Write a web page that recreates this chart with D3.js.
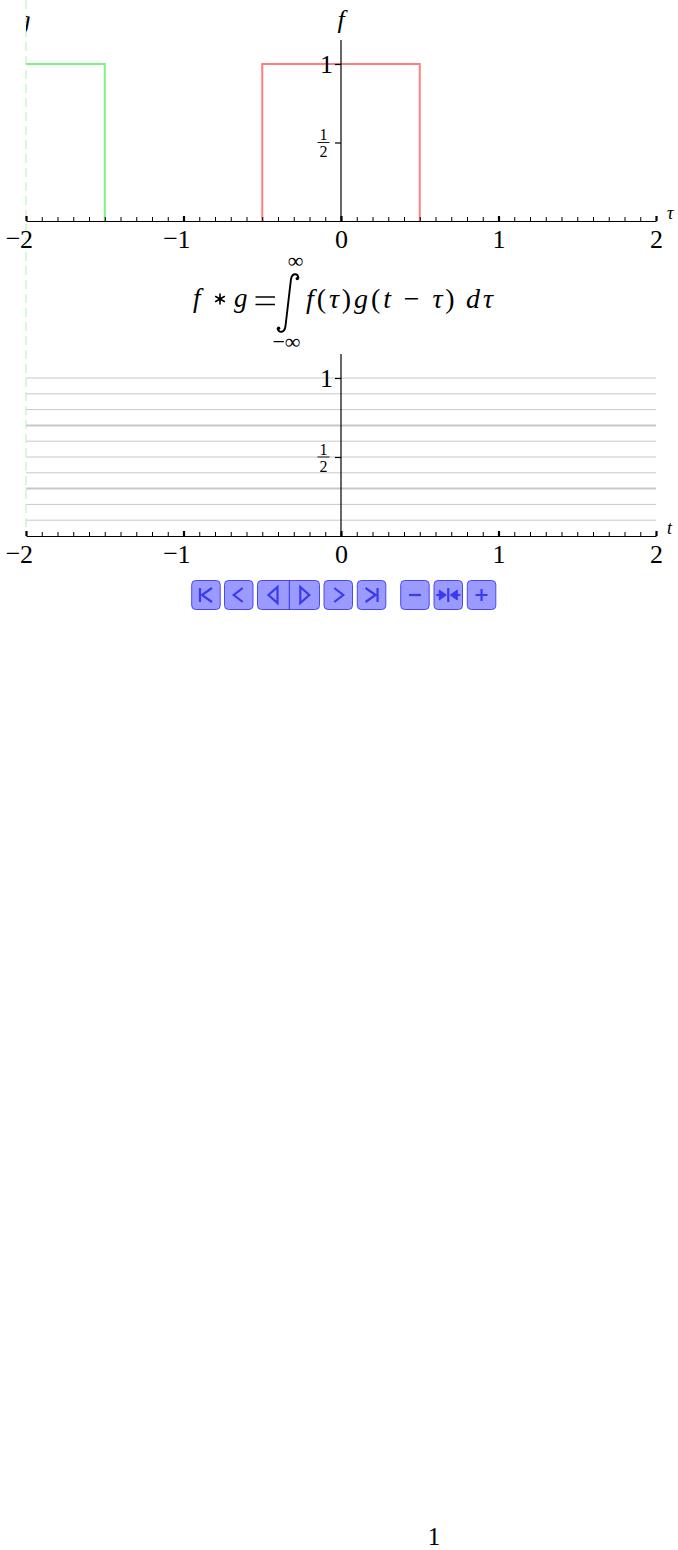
<!DOCTYPE html>
<html><head><meta charset="utf-8">
<script src="https://cdn.jsdelivr.net/npm/d3@7"></script>
<style>
html,body{margin:0;padding:0;background:#fff;}
svg{display:block;}
text{font-family:"Liberation Serif","DejaVu Serif",serif;fill:#000;}
.it{font-style:italic;}
</style></head>
<body>
<svg id="c" width="678" height="1550"></svg>
<script>
// ---------- data ----------
const xDomain = [-2, 2];
const majorTicks = [-2, -1, 0, 1, 2];
const minorTicks = d3.range(-20, 21).map(d => d / 10);
const fPoints = [[-0.5, 0], [-0.5, 1], [0.5, 1], [0.5, 0]];
const gPoints = [[-2.5, 1], [-1.5, 1], [-1.5, 0]];
const currentT = -2;
const yTickValues = [0.5, 1];
const gridValues = [0.1, 0.2, 0.3, 0.4, 0.5, 0.6, 0.7, 0.8, 0.9, 1.0];
const gridEmphasis = [0.3, 0.7];
const buttons = ["first", "prev", "revplay", "play", "next", "last", "slower", "reset", "faster"];
const pageNumber = "1";

// ---------- layout ----------
const svg = d3.select("#c");
const x = d3.scaleLinear().domain(xDomain).range([26, 656]);
const yTop = d3.scaleLinear().domain([0, 1]).range([221, 64]);
const yBot = d3.scaleLinear().domain([0, 1]).range([536, 378]);
const line = (ys) => d3.line().x(d => x(d[0])).y(d => ys(d[1]));

svg.append("clipPath").attr("id", "plotclip").append("rect")
  .attr("x", x(-2)).attr("y", 0).attr("width", x(2) - x(-2)).attr("height", 600);

// bottom grid
svg.append("g").selectAll("line").data(gridValues).join("line")
  .attr("x1", x(-2)).attr("x2", x(2))
  .attr("y1", d => yBot(d)).attr("y2", d => yBot(d))
  .attr("stroke", "#c8c8c8")
  .attr("stroke-width", d => gridEmphasis.some(e => Math.abs(e - d) < 1e-9) ? 2 : 1);

// dashed t marker
svg.append("line").attr("x1", x(currentT)).attr("x2", x(currentT))
  .attr("y1", 0).attr("y2", yBot(0))
  .attr("stroke", "#bff5bf").attr("stroke-width", 1.2).attr("stroke-dasharray", "9,5");

// f and g
svg.append("path").attr("d", line(yTop)(fPoints)).attr("fill", "none")
  .attr("stroke", "#ff7f7f").attr("stroke-width", 2);
svg.append("path").attr("d", line(yTop)(gPoints)).attr("fill", "none")
  .attr("clip-path", "url(#plotclip)")
  .attr("stroke", "#80f080").attr("stroke-width", 2);

function drawAxes(ys, yAxisTop, varName) {
  const y0 = ys(0);
  const minor = svg.append("g").attr("transform", `translate(0,${y0})`)
    .call(d3.axisBottom(x).tickValues(minorTicks).tickSizeInner(-4).tickSizeOuter(0).tickFormat(""));
  minor.selectAll(".tick line").attr("stroke", "#000").attr("stroke-width", 1);
  minor.select(".domain").attr("stroke", "#000").attr("stroke-width", 1.2);
  const major = svg.append("g").attr("transform", `translate(0,${y0})`)
    .call(d3.axisBottom(x).tickValues(majorTicks).tickSizeInner(-5).tickSizeOuter(0)
      .tickFormat(d => String(Math.abs(d))));
  major.select(".domain").remove();
  major.selectAll(".tick line").attr("stroke", "#000").attr("stroke-width", 2.2);
  major.selectAll(".tick text")
    .attr("y", 27).attr("dy", 0).attr("fill", "#000")
    .style("font-size", "26px");
  major.selectAll(".tick").filter(d => d < 0).append("text")
    .attr("x", -6).attr("y", 26).attr("text-anchor", "end")
    .style("font-size", "26px").text("\u2212");
  svg.append("line").attr("x1", x(0)).attr("x2", x(0))
    .attr("y1", yAxisTop).attr("y2", y0).attr("stroke", "#000").attr("stroke-width", 1.2);
  const ya = svg.append("g").attr("transform", `translate(${x(0)},0)`)
    .call(d3.axisLeft(ys).tickValues(yTickValues).tickSizeInner(6).tickSizeOuter(0).tickFormat(""));
  ya.select(".domain").remove();
  ya.selectAll(".tick line").attr("stroke", "#000").attr("stroke-width", 1.2);
  svg.append("text").attr("x", x(0) - 8).attr("y", ys(1) + 8.5).attr("text-anchor", "end")
    .style("font-size", "26px").text("1");
  const fr = svg.append("g").attr("transform", `translate(${x(0) - 17.5},${ys(0.5)})`);
  fr.append("text").attr("x", 0).attr("y", -2.5).attr("text-anchor", "middle").style("font-size", "16px").text("1");
  fr.append("line").attr("x1", -6).attr("x2", 6).attr("y1", 0).attr("y2", 0).attr("stroke", "#000").attr("stroke-width", 0.9);
  fr.append("text").attr("x", 0).attr("y", 14.5).attr("text-anchor", "middle").style("font-size", "16px").text("2");
  svg.append("text").attr("class", "it").attr("x", 667).attr("y", y0 - 2)
    .style("font-size", "18px").text(varName);
}
drawAxes(yTop, 40, "\u03C4");
drawAxes(yBot, 354, "t");

// f, g labels
svg.append("text").attr("class", "it").attr("x", x(0)).attr("y", 28)
  .attr("text-anchor", "middle").style("font-size", "26px").text("f");
svg.append("text").attr("class", "it").attr("x", x(-2) - 2).attr("y", 28)
  .attr("clip-path", "url(#plotclip)").attr("text-anchor", "middle").style("font-size", "26px").text("g");

// formula
const fm = svg.append("g");
fm.append("text").attr("class", "it").attr("x", 193).attr("y", 307).style("font-size", "27px").text("f");
const ac = [220, 299], ar = 5;
fm.append("path").attr("d", d3.range(3).map(i => {
    const a = Math.PI / 2 + i * Math.PI / 3;
    return `M${ac[0] + ar * Math.cos(a)},${ac[1] - ar * Math.sin(a)}L${ac[0] - ar * Math.cos(a)},${ac[1] + ar * Math.sin(a)}`;
  }).join("")).attr("stroke", "#000").attr("stroke-width", 1.6).attr("stroke-linecap", "round");
fm.append("text").attr("class", "it").attr("x", 234).attr("y", 307).style("font-size", "27px").text("g");
fm.append("path").attr("d", "M255.5,297H275M255.5,304.5H275").attr("stroke", "#000").attr("stroke-width", 1.4);
fm.append("path")
  .attr("d", "M298.5,278.5 C298,273 292.5,272.5 291,279 L285.5,326 C284.5,333 279,333.5 277.5,328.5")
  .attr("fill", "none").attr("stroke", "#000").attr("stroke-width", 1.9);
fm.append("circle").attr("cx", 297.3).attr("cy", 278.6).attr("r", 1.7);
fm.append("circle").attr("cx", 278.6).attr("cy", 328.2).attr("r", 1.7);
fm.append("text").attr("x", 295.5).attr("y", 268).attr("text-anchor", "middle").style("font-size", "22px").text("\u221E");
fm.append("text").attr("x", 286.5).attr("y", 349).attr("text-anchor", "middle").style("font-size", "22px").text("\u2212\u221E");
const expr = fm.append("text").attr("x", 306).attr("y", 308).style("font-size", "28px")
  .attr("textLength", 187).attr("lengthAdjust", "spacing");
const parts = [["f", 1], ["(", 0], ["\u03C4", 1], [")", 0], ["g", 1], ["(", 0], ["t", 1], [" \u2212 ", 0], ["\u03C4", 1], [")\u2009", 0], ["d\u03C4", 1]];
parts.forEach(([s, it]) => expr.append("tspan").attr("class", it ? "it" : null).text(s));

// buttons
const btnW = 28.5, btnH = 29, btnY = 580.5;
const btnX = {first: 191.7, prev: 224.5, revplay: 257.5, play: 289.3, next: 324, last: 357.3, slower: 400.7, reset: 434, faster: 467.3};
const bcol = "#3a3af0";
const bg = svg.append("g");
bg.append("rect").attr("x", btnX.first).attr("y", btnY).attr("width", btnW).attr("height", btnH).attr("rx", 4);
bg.append("rect").attr("x", btnX.prev).attr("y", btnY).attr("width", btnW).attr("height", btnH).attr("rx", 4);
bg.append("rect").attr("x", btnX.revplay).attr("y", btnY).attr("width", 62).attr("height", btnH).attr("rx", 4);
["next", "last", "slower", "reset", "faster"].forEach(k =>
  bg.append("rect").attr("x", btnX[k]).attr("y", btnY).attr("width", btnW).attr("height", btnH).attr("rx", 4));
bg.selectAll("rect").attr("fill", "#9a9aff").attr("stroke", "#4848f8").attr("stroke-width", 1);
bg.append("line").attr("x1", btnX.play).attr("x2", btnX.play).attr("y1", btnY).attr("y2", btnY + btnH)
  .attr("stroke", "#3434e0").attr("stroke-width", 1);

const ic = svg.append("g").attr("fill", "none").attr("stroke", bcol).attr("stroke-width", 2.2)
  .attr("stroke-linejoin", "miter").attr("stroke-linecap", "butt");
const cy = btnY + btnH / 2;
buttons.forEach(k => {
  const cx = k === "revplay" ? btnX.revplay + 16 : k === "play" ? btnX.play + 15 : btnX[k] + btnW / 2;
  let d = "";
  switch (k) {
    case "first": d = `M${cx-6},${cy-7}V${cy+7}M${cx+6},${cy-7}L${cx-4},${cy}L${cx+6},${cy+7}`; break;
    case "prev": d = `M${cx+4},${cy-7}L${cx-5},${cy}L${cx+4},${cy+7}`; break;
    case "revplay": d = `M${cx+4},${cy-8}V${cy+8}L${cx-5},${cy}Z`; break;
    case "play": d = `M${cx-4},${cy-8}V${cy+8}L${cx+5},${cy}Z`; break;
    case "next": d = `M${cx-4},${cy-7}L${cx+5},${cy}L${cx-4},${cy+7}`; break;
    case "last": d = `M${cx-6},${cy-7}L${cx+4},${cy}L${cx-6},${cy+7}M${cx+6},${cy-7}V${cy+7}`; break;
    case "slower": d = `M${cx-6},${cy}H${cx+6}`; break;
    case "reset": d = `M${cx},${cy-7}V${cy+7}`; break;
    case "faster": d = `M${cx-6},${cy}H${cx+6}M${cx},${cy-6}V${cy+6}`; break;
  }
  ic.append("path").attr("d", d);
  if (k === "reset") {
    ic.append("path").attr("d", `M${cx-9},${cy-5}L${cx-2},${cy}L${cx-9},${cy+5}Z M${cx+9},${cy-5}L${cx+2},${cy}L${cx+9},${cy+5}Z`)
      .attr("fill", bcol).attr("stroke-width", 1);
    ic.append("path").attr("d", `M${cx-12},${cy}H${cx-8}M${cx+8},${cy}H${cx+12}`).attr("stroke-width", 2);
  }
});

// page number
svg.append("text").attr("x", 434).attr("y", 1545).attr("text-anchor", "middle")
  .style("font-size", "25px").text(pageNumber);
</script>
</body></html>
